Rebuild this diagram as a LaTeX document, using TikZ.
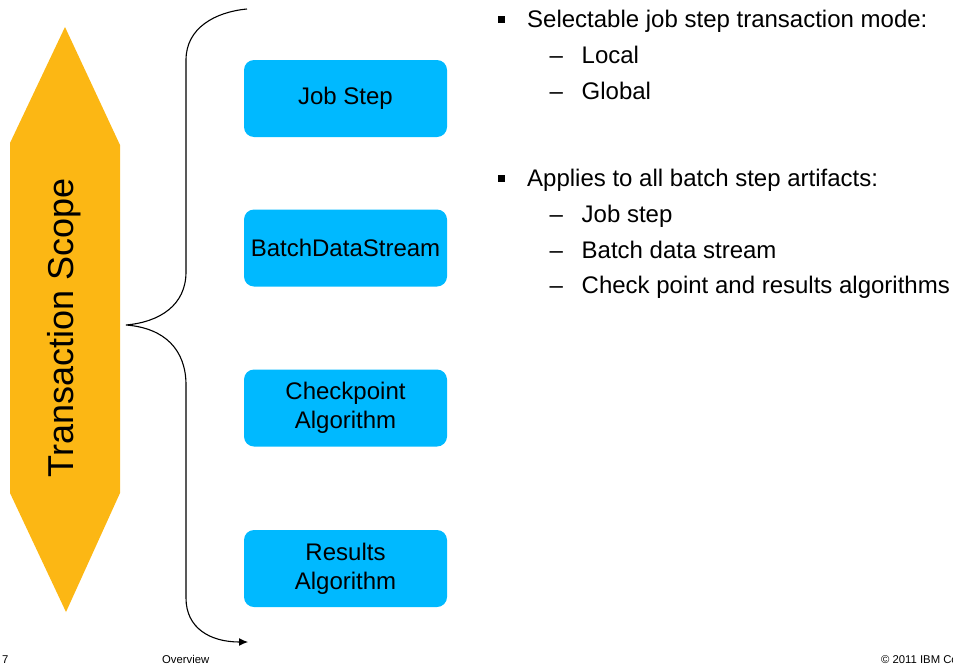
\documentclass[tikz,border=0pt]{standalone}
\usepackage{fontspec}
\setmainfont{Liberation Sans}
\usetikzlibrary{arrows.meta}

\definecolor{scopeorange}{RGB}{252,183,20}
\definecolor{boxcyan}{RGB}{0,185,255}

\tikzset{
  stepbox/.style={rectangle, rounded corners=10pt, fill=boxcyan, draw=none,
    minimum width=203pt, minimum height=77pt, inner sep=0pt, align=center,
    font=\fontsize{24}{29}\selectfont},
  bodytext/.style={anchor=base west, inner sep=0pt, font=\fontsize{24}{28}\selectfont},
  bulletsq/.style={rectangle, fill=black, minimum size=7pt, inner sep=0pt},
  bracepath/.style={line width=1.1pt, black},
  foot/.style={anchor=base west, inner sep=0pt, font=\fontsize{11.3}{13}\selectfont},
}

\begin{document}
\begin{tikzpicture}[x=1pt, y=-1pt]
  \useasboundingbox (0,0) rectangle (953,664);

  % elongated hexagon carrying the vertical title
  \fill[scopeorange] (65,27) -- (120,145) -- (120,493) -- (66,612) -- (10,493) -- (10,143) -- cycle;
  \node[rotate=90, anchor=base, inner sep=0pt, font=\fontsize{36}{40}\selectfont] (scope) at (73,328) {Transaction Scope};

  % the four batch step artifacts
  \node[stepbox] (job) at (345.5,98.5) {Job Step};
  \node[stepbox] (bds) at (345.5,248) {BatchDataStream};
  \node[stepbox] (chk) at (345.5,408) {Checkpoint\\Algorithm};
  \node[stepbox] (res) at (345.5,568.5) {Results\\Algorithm};

  % curly brace from the hexagon around the boxes, ending in an arrow
  \coordinate (bracetop) at (247,9);
  \coordinate (bracetip) at (126,325);
  \coordinate (braceend) at (248,642);
  \draw[bracepath, -{Latex[length=9pt,width=8pt]}]
    (bracetop) .. controls (215,12) and (186,28) .. (186,60)
    -- (186,272) .. controls (186,305) and (160,322) .. (bracetip)
    .. controls (165,328) and (186,350) .. (186,385)
    -- (186,598) .. controls (186,628) and (210,642) .. (braceend);

  % bullet list
  \node[bulletsq] (b1) at (501.5,19) {};
  \node[bodytext] (t1) at (527,27) {Selectable job step transaction mode:};
  \node[bodytext] (d11) at (549.5,63) {–};
  \node[bodytext] (t11) at (581.5,63) {Local};
  \node[bodytext] (d12) at (549.5,99) {–};
  \node[bodytext] (t12) at (581.5,99) {Global};

  \node[bulletsq] (b2) at (501.5,178) {};
  \node[bodytext] (t2) at (527,186) {Applies to all batch step artifacts:};
  \node[bodytext] (d21) at (549.5,222) {–};
  \node[bodytext] (t21) at (581.5,222) {Job step};
  \node[bodytext] (d22) at (549.5,258) {–};
  \node[bodytext] (t22) at (581.5,258) {Batch data stream};
  \node[bodytext] (d23) at (549.5,293) {–};
  \node[bodytext] (t23) at (581.5,293) {Check point and results algorithms};

  % footer line, the copyright running off the right edge
  \begin{scope}
    \clip (0,0) rectangle (953,664);
    \node[foot] (pg) at (2,663) {7};
    \node[foot] (ov) at (162,663) {Overview};
    \node[foot] (cr) at (881,663) {© 2011 IBM Corporation};
  \end{scope}
\end{tikzpicture}
\end{document}
